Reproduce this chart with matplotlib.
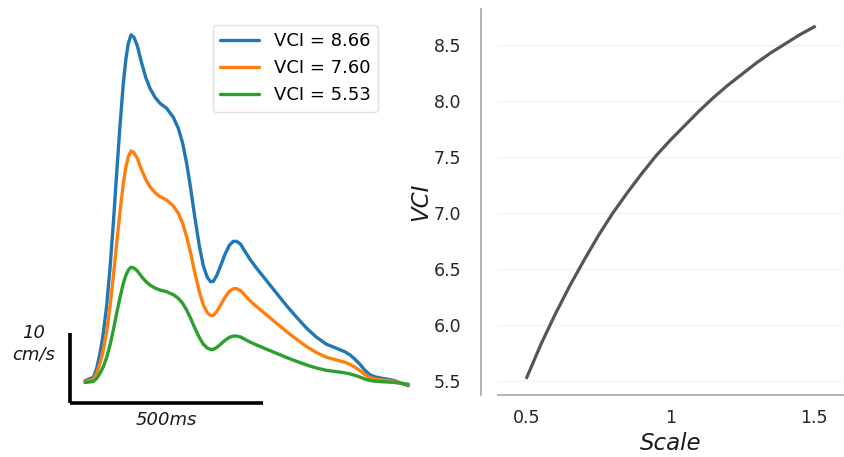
import numpy as np
import matplotlib
matplotlib.use("Agg")
import matplotlib.pyplot as plt

# ---------------- data ----------------
# reference waveform (scale = 1, orange), time in ms, velocity in cm/s
t_ms = [0.0, 21.6, 30.2, 38.8, 47.4, 56.0, 64.7, 73.3, 81.9, 90.5, 99.1,
        106.0, 112.1, 119.0, 126.7, 135.3, 146.6, 157.8, 168.1, 181.0, 194.0,
        211.2, 228.4, 241.4, 252.6, 262.9, 273.3, 284.5, 295.7, 306.0, 316.4,
        325.0, 331.9, 340.5, 350.9, 362.1, 373.3, 383.6, 392.2, 402.6, 413.8,
        426.7, 444.0, 469.8, 495.7, 521.6, 547.4, 573.3, 599.1, 625.0, 650.9,
        672.4, 685.3, 698.3, 711.2, 724.1, 737.1, 750.0, 767.2, 784.5, 801.7,
        819.0, 836.2]
v_ref = [3.05, 3.38, 4.24, 5.67, 7.57, 10.19, 13.76, 18.05, 22.81, 27.33, 31.38,
         33.76, 35.19, 36.00, 35.76, 34.95, 33.29, 31.86, 30.90, 30.05, 29.48,
         29.00, 28.14, 27.10, 25.67, 23.76, 21.38, 18.52, 15.90, 14.00, 12.90,
         12.48, 12.52, 13.05, 14.00, 15.10, 15.95, 16.33, 16.33, 16.05, 15.38,
         14.62, 13.76, 12.57, 11.38, 10.19, 9.10, 8.05, 7.19, 6.52, 6.14,
         5.81, 5.52, 5.10, 4.62, 4.05, 3.62, 3.43, 3.29, 3.19, 3.05,
         2.81, 2.57]
baseline = 2.8                      # cm/s, value the scaling is anchored to
wave_scales = [1.5, 1.0, 0.5]
wave_labels = ["VCI = 8.66", "VCI = 7.60", "VCI = 5.53"]
wave_colors = ["#1f77b4", "#ff7f0e", "#2ca02c"]

# VCI as a function of the scale
scale = [0.50, 0.55, 0.60, 0.65, 0.70, 0.75, 0.80, 0.85, 0.90, 0.95, 1.00,
         1.05, 1.10, 1.15, 1.20, 1.25, 1.30, 1.35, 1.40, 1.45, 1.50]
vci = [5.53, 5.83, 6.10, 6.35, 6.58, 6.80, 7.00, 7.18, 7.35, 7.51, 7.65,
       7.78, 7.91, 8.03, 8.14, 8.24, 8.34, 8.43, 8.51, 8.59, 8.66]
xtick_vals = [0.5, 1.0, 1.5]
xtick_labels = ["0.5", "1", "1.5"]
ytick_vals = [5.5, 6.0, 6.5, 7.0, 7.5, 8.0, 8.5]

# scale bars
bar_v = 10      # cm/s
bar_t = 500     # ms

# ---------------- figure ----------------
W, H = 844, 457
fig = plt.figure(figsize=(W / 100, H / 100), dpi=100)

# ---- left: waveforms (axes hidden, scale bars) ----
axL = fig.add_axes([0, 0, 440 / W, 1])
px_per_ms = 193.3 / 500
px_per_v = 7.0
x0_px, y0_px = 85, 403
axL.set_xlim((0 - x0_px) / px_per_ms, (440 - x0_px) / px_per_ms)
axL.set_ylim((y0_px - H) / px_per_v, y0_px / px_per_v)
axL.axis("off")

t = np.array(t_ms)
v = np.array(v_ref)
for s, lab, c in zip(wave_scales, wave_labels, wave_colors):
    axL.plot(t, baseline + s * (v - baseline), color=c, lw=2.4, label=lab,
             solid_capstyle="round", solid_joinstyle="round")

bx = (70 - x0_px) / px_per_ms
axL.plot([bx, bx], [0, bar_v], color="black", lw=2.6, solid_capstyle="butt")
axL.plot([bx, bx + bar_t], [0, 0], color="black", lw=2.6, solid_capstyle="butt")
axL.text((34 - x0_px) / px_per_ms, bar_v * 0.85, f"{bar_v}\ncm/s",
         ha="center", va="center", fontsize=13, style="italic",
         linespacing=1.25, color="0.1")
axL.text(bx + bar_t / 2, -2.45, f"{bar_t}ms", ha="center", va="center",
         fontsize=13, style="italic", color="0.1")

leg = axL.legend(loc="upper right", bbox_to_anchor=(378 / W, 1 - 25 / H),
                 bbox_transform=fig.transFigure, borderaxespad=0,
                 fontsize=13, handlelength=2.2, frameon=True, fancybox=True)
leg.get_frame().set_edgecolor("0.85")
leg.get_frame().set_linewidth(1.0)

# ---- right: VCI vs scale ----
axR = fig.add_axes([498 / W, 1 - 395 / H, (843 - 498) / W, (395 - 9.3) / H])
axR.plot(scale, vci, color="#555555", lw=2.3)
axR.margins(x=0.1, y=0.05)
axR.set_xticks(xtick_vals)
axR.set_xticklabels(xtick_labels)
axR.set_yticks(ytick_vals)
axR.set_yticklabels([f"{y:.1f}" for y in ytick_vals])
axR.tick_params(axis="both", length=0, labelsize=12.5, colors="0.15")
axR.tick_params(axis="y", pad=14)
axR.tick_params(axis="x", pad=10)
axR.grid(axis="y", color="0.95", lw=1.0)
axR.set_axisbelow(True)
for side in ["top", "right"]:
    axR.spines[side].set_visible(False)
for side in ["left", "bottom"]:
    axR.spines[side].set_color("0.68")
    axR.spines[side].set_linewidth(1.3)
axR.spines["left"].set_position(("outward", 17 * 72 / 100))
axR.set_ylabel("VCI", fontsize=16.5, style="italic", color="0.1", labelpad=1)
axR.set_xlabel("Scale", fontsize=16.5, style="italic", color="0.1", labelpad=4)

fig.savefig("out.png", dpi=100)
